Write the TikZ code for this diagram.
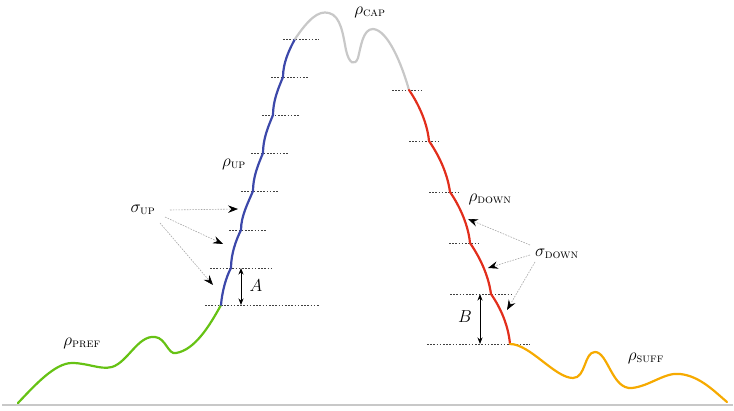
\documentclass[tikz,border=0pt]{standalone}
\usetikzlibrary{arrows.meta}
\definecolor{upblue}{RGB}{60,72,170}
\definecolor{downred}{RGB}{226,46,28}
\definecolor{prefgreen}{RGB}{102,194,20}
\definecolor{suffgold}{RGB}{246,170,0}
\definecolor{capgray}{RGB}{200,200,200}
\newcommand{\sublbl}[2]{$#1_{\hbox{\fontsize{12.5}{14}\selectfont\textsc{#2}}}$}
\tikzset{
  path/.style={line width=2.2pt, line cap=round},
  level/.style={dash pattern=on 1.6pt off 1.6pt, line width=0.7pt, black!75},
  pointer/.style={dash pattern=on 1.6pt off 1.2pt, line width=0.6pt, black!35, -{Stealth[length=10pt,width=7.5pt,inset=3.5pt,black]}},
  span/.style={line width=0.8pt, black, {Stealth[length=6.5pt,width=5pt,inset=2pt]}-{Stealth[length=6.5pt,width=5pt,inset=2pt]}},
  lbl/.style={inner sep=0pt, font=\fontsize{16}{19}\selectfont}
}
\begin{document}
\begin{tikzpicture}[x=1pt,y=-1pt]
\useasboundingbox (0,0) rectangle (734,411);

% ground line
\draw[capgray, line width=2pt] (2,405) -- (733,405);

% kink points of the ascending part
\coordinate (u0) at (221,305);
\coordinate (u1) at (231,268);
\coordinate (u2) at (241,230);
\coordinate (u3) at (253,191);
\coordinate (u4) at (263,153);
\coordinate (u5) at (273,115);
\coordinate (u6) at (283,77);
\coordinate (u7) at (295,39);
% kink points of the descending part
\coordinate (d0) at (409,90);
\coordinate (d1) at (429,141);
\coordinate (d2) at (450,192);
\coordinate (d3) at (470,243);
\coordinate (d4) at (491,294);
\coordinate (d5) at (510,344);

% level lines
\draw[level] (283,39) -- (319,39);
\draw[level] (271,77) -- (309,77);
\draw[level] (262,115) -- (300,115);
\draw[level] (251,153) -- (288,153);
\draw[level] (241,191) -- (278,191);
\draw[level] (229,230) -- (267,230);
\draw[level] (210,268) -- (272,268);
\draw[level] (205,305) -- (320,305);
\draw[level] (392,90) -- (422,90);
\draw[level] (409,141) -- (439,141);
\draw[level] (429,192) -- (459,192);
\draw[level] (449,243) -- (479,243);
\draw[level] (450,294) -- (513,294);
\draw[level] (427,344) -- (530,344);

% prefix
\draw[path, prefgreen] (18,403) .. controls (35,385) and (55,363) .. (72,363)
  .. controls (88,363) and (100,370) .. (112,367)
  .. controls (128,362) and (138,335) .. (155,337)
  .. controls (166,338) and (168,355) .. (176,353)
  .. controls (195,350) and (210,325) .. (u0);

% ascending part
\draw[path, upblue] (u0) .. controls (222,292) and (226,277) .. (u1)
  .. controls (231,254) and (236,240) .. (u2)
  .. controls (241,216) and (248,203) .. (u3)
  .. controls (253,177) and (258,165) .. (u4)
  .. controls (263,139) and (268,127) .. (u5)
  .. controls (273,101) and (278,89) .. (u6)
  .. controls (283,63) and (289,50) .. (u7);

% cap
\draw[path, capgray] (u7) .. controls (308,20) and (318,10) .. (329,13)
  .. controls (341,16) and (343,35) .. (346,50)
  .. controls (349,64) and (355,66) .. (358,58)
  .. controls (361,46) and (363,29) .. (373,29)
  .. controls (388,30) and (402,65) .. (d0);

% descending part
\draw[path, downred] (d0) .. controls (416,100) and (427,120) .. (d1)
  .. controls (436,151) and (447,170) .. (d2)
  .. controls (457,202) and (468,222) .. (d3)
  .. controls (477,253) and (488,272) .. (d4)
  .. controls (498,304) and (508,322) .. (d5);

% suffix
\draw[path, suffgold] (d5) .. controls (530,344) and (555,378) .. (573,378)
  .. controls (586,378) and (584,352) .. (595,352)
  .. controls (608,352) and (612,390) .. (632,388)
  .. controls (650,386) and (665,372) .. (680,374)
  .. controls (700,376) and (715,392) .. (727,402);

% labels
\node[lbl] (cap)  at (370,12)  {\sublbl{\rho}{cap}};
\node[lbl] (up)   at (234,164) {\sublbl{\rho}{up}};
\node[lbl] (down) at (490,199) {\sublbl{\rho}{down}};
\node[lbl] (pref) at (82,343)  {\sublbl{\rho}{pref}};
\node[lbl] (suff) at (646,358) {\sublbl{\rho}{suff}};
\node[lbl] (sup)  at (143,210) {\sublbl{\sigma}{up}};
\node[lbl] (sdn)  at (557,254) {\sublbl{\sigma}{down}};
\node[lbl] (lA)   at (256,286) {$A$};
\node[lbl] (lB)   at (465,317) {$B$};

% pointers to the step segments
\coordinate (pu1) at (238,209);
\coordinate (pu2) at (223,244);
\coordinate (pu3) at (213,285);
\draw[pointer] (170,210) -- (pu1);
\draw[pointer] (165,217) -- (pu2);
\draw[pointer] (160,223) -- (pu3);
\coordinate (pd1) at (468,219);
\coordinate (pd2) at (488,268);
\coordinate (pd3) at (507,310);
\draw[pointer] (530,245) -- (pd1);
\draw[pointer] (530,255) -- (pd2);
\draw[pointer] (535,262) -- (pd3);

% step heights
\draw[span] (241,268) -- (241,305);
\draw[span] (480,294) -- (480,344);
\end{tikzpicture}
\end{document}
